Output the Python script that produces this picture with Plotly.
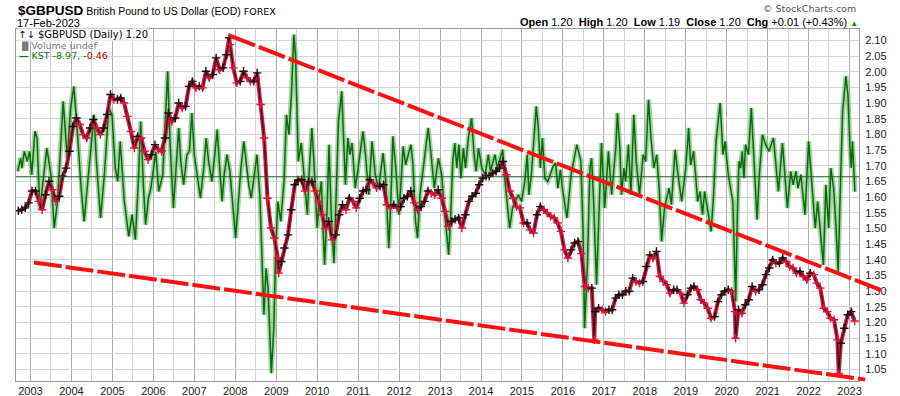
import plotly.graph_objects as go
import pandas as pd

# ---------------- data ----------------
# GBPUSD, one representative value per month (mid-month), Sep-2002 .. Feb-2023
price_first_month = "2002-09-15"
price_close = [
    1.557, 1.560, 1.566, 1.582,                                                   # 2002 Sep-Dec
    1.620, 1.620, 1.587, 1.560, 1.608, 1.651, 1.624, 1.587, 1.603, 1.667, 1.693, 1.747,  # 2003
    1.826, 1.853, 1.832, 1.800, 1.789, 1.821, 1.848, 1.821, 1.800, 1.821, 1.864, 1.928,  # 2004
    1.912, 1.912, 1.917, 1.901, 1.858, 1.810, 1.757, 1.794, 1.789, 1.747, 1.720, 1.736,  # 2005
    1.768, 1.752, 1.747, 1.789, 1.869, 1.842, 1.853, 1.901, 1.885, 1.890, 1.954, 1.970,  # 2006
    1.949, 1.954, 1.949, 2.002, 1.981, 1.992, 2.045, 2.007, 2.013, 2.055, 2.087, 2.013,  # 2007
    1.965, 1.970, 2.002, 1.981, 1.970, 1.970, 1.997, 1.896, 1.789, 1.597, 1.502, 1.470,  # 2008
    1.406, 1.395, 1.438, 1.480, 1.560, 1.640, 1.655, 1.656, 1.620, 1.650, 1.650, 1.620,  # 2009
    1.587, 1.544, 1.500, 1.523, 1.464, 1.480, 1.544, 1.576, 1.560, 1.597, 1.587, 1.566,  # 2010
    1.597, 1.620, 1.624, 1.656, 1.645, 1.630, 1.635, 1.640, 1.576, 1.566, 1.576, 1.566,  # 2011
    1.570, 1.597, 1.603, 1.620, 1.582, 1.560, 1.570, 1.587, 1.620, 1.613, 1.608, 1.624,  # 2012
    1.597, 1.555, 1.507, 1.523, 1.530, 1.534, 1.502, 1.544, 1.587, 1.603, 1.613, 1.640,  # 2013
    1.661, 1.667, 1.667, 1.677, 1.683, 1.693, 1.714, 1.672, 1.620, 1.597, 1.570, 1.566,  # 2014
    1.518, 1.518, 1.496, 1.486, 1.544, 1.570, 1.560, 1.550, 1.539, 1.534, 1.518, 1.491,  # 2015
    1.432, 1.406, 1.432, 1.454, 1.459, 1.420, 1.315, 1.310, 1.310, 1.235, 1.246, 1.241,  # 2016
    1.235, 1.241, 1.241, 1.278, 1.289, 1.289, 1.300, 1.300, 1.342, 1.331, 1.326, 1.331,  # 2017
    1.379, 1.416, 1.406, 1.427, 1.347, 1.331, 1.321, 1.294, 1.305, 1.305, 1.294, 1.262,  # 2018
    1.289, 1.310, 1.315, 1.305, 1.273, 1.262, 1.246, 1.214, 1.219, 1.267, 1.289, 1.300,  # 2019
    1.305, 1.300, 1.235, 1.241, 1.230, 1.257, 1.273, 1.315, 1.300, 1.305, 1.321, 1.353,  # 2020
    1.374, 1.400, 1.390, 1.390, 1.406, 1.395, 1.379, 1.374, 1.358, 1.363, 1.347, 1.337,  # 2021
    1.358, 1.353, 1.326, 1.310, 1.246, 1.235, 1.214, 1.209, 1.145, 1.134, 1.182, 1.225,  # 2022
    1.235, 1.205,                                                                 # 2023 Jan-Feb
]
# visible single-day extremes
price_spike_dates = ["2007-11-08", "2009-01-23", "2016-10-07", "2020-03-20", "2022-09-26"]
price_spike_values = [2.109, 1.358, 1.145, 1.150, 1.038]

# KST (turning points, time as fractional year)
kst_time = [
    2002.69, 2002.76, 2002.79, 2002.85, 2002.92, 2002.98, 2003.03, 2003.11, 2003.16, 2003.23,
    2003.40, 2003.50, 2003.58, 2003.66, 2003.80, 2003.86, 2003.90, 2003.98, 2004.06, 2004.15,
    2004.23, 2004.31, 2004.39, 2004.55, 2004.61, 2004.71, 2004.81, 2004.91, 2004.99, 2005.07,
    2005.13, 2005.19, 2005.29, 2005.40, 2005.48, 2005.56, 2005.64, 2005.69, 2005.76, 2005.81,
    2005.88, 2005.94, 2006.06, 2006.13, 2006.23, 2006.35, 2006.41, 2006.49, 2006.62, 2006.67,
    2006.74, 2006.82, 2006.88, 2006.94, 2007.00, 2007.07, 2007.15, 2007.23, 2007.29, 2007.35,
    2007.43, 2007.50, 2007.56, 2007.62, 2007.68, 2007.73, 2007.80, 2007.87, 2007.96, 2008.01,
    2008.09, 2008.14, 2008.21, 2008.27, 2008.33, 2008.39, 2008.45, 2008.53, 2008.60, 2008.66,
    2008.70, 2008.75, 2008.80, 2008.88, 2008.94, 2008.99, 2009.04, 2009.11, 2009.19, 2009.25,
    2009.31, 2009.37, 2009.43, 2009.47, 2009.51, 2009.54, 2009.61, 2009.69, 2009.76, 2009.81,
    2009.87, 2009.92, 2010.00, 2010.06, 2010.10, 2010.18, 2010.24, 2010.29, 2010.34, 2010.41,
    2010.47, 2010.52, 2010.60, 2010.65, 2010.69, 2010.75, 2010.80, 2010.85, 2010.93, 2011.00,
    2011.12, 2011.18, 2011.26, 2011.34, 2011.42, 2011.50, 2011.61, 2011.67, 2011.75, 2011.80,
    2011.85, 2011.92, 2012.00, 2012.04, 2012.10, 2012.16, 2012.22, 2012.29, 2012.34, 2012.40,
    2012.45, 2012.51, 2012.61, 2012.71, 2012.78, 2012.86, 2012.96, 2013.04, 2013.10, 2013.21,
    2013.26, 2013.31, 2013.36, 2013.41, 2013.46, 2013.51, 2013.57, 2013.62, 2013.69, 2013.77,
    2013.83, 2013.88, 2013.94, 2014.02, 2014.10, 2014.18, 2014.23, 2014.34, 2014.40, 2014.53,
    2014.58, 2014.64, 2014.70, 2014.77, 2014.91, 2014.99, 2015.07, 2015.13, 2015.17, 2015.23,
    2015.35, 2015.40, 2015.45, 2015.50, 2015.56, 2015.63, 2015.76, 2015.82, 2015.88, 2015.94,
    2016.00, 2016.10, 2016.20, 2016.34, 2016.44, 2016.49, 2016.53, 2016.60, 2016.66, 2016.70,
    2016.75, 2016.82, 2016.88, 2016.94, 2017.02, 2017.11, 2017.19, 2017.29, 2017.33, 2017.39,
    2017.43, 2017.49, 2017.53, 2017.60, 2017.66, 2017.73, 2017.79, 2017.87, 2017.96, 2018.02,
    2018.09, 2018.15, 2018.22, 2018.29, 2018.35, 2018.41, 2018.48, 2018.53, 2018.59, 2018.65,
    2018.74, 2018.80, 2018.90, 2019.00, 2019.07, 2019.12, 2019.19, 2019.24, 2019.29, 2019.35,
    2019.41, 2019.46, 2019.52, 2019.62, 2019.68, 2019.74, 2019.84, 2019.87, 2019.91, 2019.96,
    2020.04, 2020.15, 2020.22, 2020.26, 2020.30, 2020.34, 2020.38, 2020.42, 2020.46, 2020.53,
    2020.60, 2020.65, 2020.69, 2020.74, 2020.79, 2020.87, 2020.95, 2021.03, 2021.14, 2021.20,
    2021.26, 2021.36, 2021.42, 2021.48, 2021.56, 2021.62, 2021.69, 2021.74, 2021.81, 2021.91,
    2022.00, 2022.05, 2022.16, 2022.22, 2022.36, 2022.42, 2022.49, 2022.54, 2022.61, 2022.67,
    2022.72, 2022.77, 2022.83, 2022.91, 2022.96, 2023.01, 2023.04, 2023.07, 2023.10, 2023.13,
]
kst_value = [
    3.2, 11.2, 5.2, 15.2, 9.2, 15.2, 1.2, 27.2, 23.2, -19.7,
    17.2, 1.2, -30.7, -14.8, 45.1, 23.2, 11.2, 41.1, 54.1, 25.2,
    -4.8, -26.7, -4.8, 37.1, 9.2, -24.7, 3.2, 41.1, 37.1, 5.2,
    -2.8, 21.2, -14.8, -35.7, -22.7, -37.7, 1.2, 33.1, -6.8, -28.7,
    -12.8, -6.8, 15.0, -8.8, 1.2, 63.1, 19.2, -18.7, 29.2, 9.2,
    -4.8, 13.2, 15.2, 38.1, 13.2, 1.2, -12.8, 5.2, 23.2, 9.2,
    -2.8, 13.2, 28.2, 5.2, -14.8, 1.2, 13.2, 3.2, -22.7, -36.7,
    -10.8, 5.2, 21.2, 9.2, -4.8, -12.8, -0.8, 13.2, -10.8, -50.7,
    -82.6, -54.7, -66.6, -117.5, -90.6, -40.7, -14.8, -26.7, -2.8, 37.1,
    25.2, 49.1, 85.0, 73.1, 39.1, 9.2, 20.2, -0.8, -22.7, 5.2,
    29.2, 9.2, -30.7, -10.8, -2.8, -52.7, -20.7, 19.2, -20.7, -51.7,
    -10.8, 33.1, 51.1, 19.2, -4.8, 23.2, 13.2, 20.2, -6.8, 5.2,
    27.2, 13.2, -10.8, 21.2, 1.2, -6.8, 14.2, -0.8, -42.7, -14.8,
    24.2, 5.2, -22.7, -6.8, 18.2, 7.2, 12.2, 19.2, 7.2, -26.7,
    -36.7, -10.8, 9.2, 29.2, 13.2, -6.8, 11.0, 1.2, -18.7, -46.7,
    -22.7, 9.2, 20.2, 5.2, 19.2, -0.8, 17.2, 5.2, 23.2, 35.1,
    13.2, 3.2, 17.2, 5.2, 1.2, 13.2, 3.2, 13.2, 5.2, 16.2,
    -0.8, -16.7, -30.7, -18.7, -10.8, -14.8, -2.8, 13.2, -10.8, 1.2,
    42.1, 29.2, 5.2, 23.2, -0.8, -2.8, 6.2, 8.2, -6.8, 4.2,
    -8.8, -24.7, 1.2, 19.2, 9.2, -30.7, -90.6, -50.7, 5.2, 11.2,
    -14.8, -64.6, -22.7, 20.2, -18.7, 15.2, -10.8, 17.2, 38.1, 17.2,
    -10.8, 5.2, -2.8, 19.2, -10.8, 37.1, 9.2, -10.8, 13.2, 9.2,
    46.1, 23.2, 5.2, 13.2, -6.8, -38.7, -18.7, -12.8, -6.8, -16.7,
    16.2, 3.2, -14.8, 5.2, 29.2, 7.2, 15.2, 1.2, -14.8, -8.8,
    -22.7, -8.8, -18.7, -32.7, -10.8, 21.2, 44.1, 29.2, 13.2, 21.2,
    1.2, -14.8, -74.6, -22.7, 9.2, 5.2, 15.2, -0.8, 19.2, 13.2,
    41.1, 17.2, -4.8, -25.7, -0.8, 25.2, 19.2, 15.2, 23.2, 9.2,
    -8.8, 20.2, 1.2, -18.7, 3.2, -4.8, 3.2, -6.8, 1.2, -22.7,
    21.2, 3.2, -30.7, -14.8, -52.7, -4.8, -30.7, 5.2, -6.8, -30.7,
    -56.7, -10.8, 39.1, 60.1, 49.1, 17.2, 5.2, 21.2, 9.2, -8.97,
]
kst_last, kst_signal_last = -8.97, -0.46

# hand-drawn trendlines (end points)
trend_upper_dates = ["2007-11-06", "2023-10-28"]
trend_upper_values = [2.117, 1.301]
trend_lower_dates = ["2003-02-01", "2023-05-21"]
trend_lower_values = [1.392, 1.018]

x_range = ["2002-08-25", "2023-03-26"]
y_range = [1.0136, 2.137]
kst_range = [-122.2, 88.4]

# ---------------- build ----------------
price_dates = pd.date_range(price_first_month, periods=len(price_close),
                            freq=pd.DateOffset(months=1))
df = pd.concat([
    pd.DataFrame({"date": price_dates, "close": price_close}),
    pd.DataFrame({"date": pd.to_datetime(price_spike_dates), "close": price_spike_values}),
]).sort_values("date").reset_index(drop=True)

cols = []
for i, v in enumerate(df["close"]):
    cols.append("#111111" if i == 0 or v >= df["close"].iloc[i - 1] else "#dc143c")


def frac_to_date(f):
    y = int(f)
    a = pd.Timestamp(year=y, month=1, day=1)
    b = pd.Timestamp(year=y + 1, month=1, day=1)
    return a + (b - a) * (f - y)


kst_dates = [frac_to_date(t) for t in kst_time]

fig = go.Figure()
fig.add_trace(go.Scatter(x=kst_dates, y=kst_value, yaxis="y", mode="lines",
                         line=dict(color="rgba(105,185,105,0.6)", width=5),
                         hoverinfo="skip", showlegend=False))
fig.add_trace(go.Scatter(x=kst_dates, y=kst_value, yaxis="y", mode="lines",
                         line=dict(color="#0a6a0a", width=1.5),
                         showlegend=False))
fig.add_trace(go.Scatter(x=df["date"], y=df["close"], yaxis="y2", mode="lines",
                         line=dict(color="#dc143c", width=4),
                         hoverinfo="skip", showlegend=False))
fig.add_trace(go.Scatter(x=df["date"], y=df["close"], yaxis="y2", mode="lines+markers",
                         line=dict(color="#1a1a1a", width=1.2),
                         marker=dict(symbol="cross-thin", size=6,
                                     line=dict(width=1.4, color=cols)),
                         showlegend=False))

W, H = 900, 396
L, R, T, B = 16, 41, 29, 15
pw, ph = W - L - R, H - T - B


def px(x):
    return (x - L) / pw


def py(y):
    return (H - B - y) / ph


t0, t1 = pd.Timestamp(x_range[0]), pd.Timestamp(x_range[1])


def xpaper(d):
    return (pd.Timestamp(d) - t0) / (t1 - t0)


def ypaper(v):
    return (v - y_range[0]) / (y_range[1] - y_range[0])


shapes = [
    dict(type="line", xref="paper", yref="y", x0=0, x1=1, y0=0, y1=0,
         line=dict(color="#1e5e1e", width=1), layer="above"),
]
for ds, vs in ((trend_upper_dates, trend_upper_values), (trend_lower_dates, trend_lower_values)):
    shapes.append(dict(type="line", xref="paper", yref="paper",
                       x0=xpaper(ds[0]), y0=ypaper(vs[0]), x1=xpaper(ds[1]), y1=ypaper(vs[1]),
                       line=dict(color="#ff1010", width=4, dash="28px,4px"), layer="above"))

ARIAL = "Liberation Sans, Arial, sans-serif"
VERD = "DejaVu Sans, Verdana, sans-serif"
ann = [
    dict(x=px(16), y=py(10),
         text="<span style='font-size:13.5px'><b>$GBPUSD</b></span> British Pound to US Dollar (EOD) "
              "<span style='font-family:DejaVu Sans;font-size:9.5px'>FOREX</span>",
         font=dict(family=ARIAL, size=10.5, color="#000")),
    dict(x=px(15), y=py(23), text="17-Feb-2023", font=dict(family=ARIAL, size=11, color="#000")),
    dict(x=px(858), y=py(9), xanchor="right", align="right", text="\u00a9 StockCharts.com",
         font=dict(family=VERD, size=9.5, color="#555")),
    dict(x=px(860), y=py(22), xanchor="right", align="right",
         text="<b>Open</b> 1.20  <b>High</b> 1.20  <b>Low</b> 1.19  <b>Close</b> 1.20  "
              "<b>Chg</b> +0.01 (+0.43%) <span style='color:#1a8a1a;font-size:8px'>\u25b2</span>",
         font=dict(family=ARIAL, size=11, color="#000")),
    dict(x=px(17), y=py(34.5), text="\u2191\u2193 $GBPUSD (Daily) 1.20", bgcolor="#ffffff",
         font=dict(family=VERD, size=10, color="#000"), borderpad=0),
    dict(x=px(17), y=py(45.5), text="<span style='font-size:8px'>\u2590\u258c</span>Volume undef",
         font=dict(family=VERD, size=9.5, color="#777")),
    dict(x=px(17), y=py(56), text="<b>\u2014</b> KST %.2f, <span style='color:#b00000'>%.2f</span>"
         % (kst_last, kst_signal_last),
         font=dict(family=VERD, size=9.5, color="#0b7a0b")),
]
for a in ann:
    a.setdefault("xanchor", "left")
    a.setdefault("align", "left")
    a.update(xref="paper", yref="paper", yanchor="middle", showarrow=False)

fig.update_layout(
    width=W, height=H, margin=dict(l=L, r=R, t=T, b=B, autoexpand=False),
    paper_bgcolor="#ffffff", plot_bgcolor="#ffffff",
    showlegend=False, hovermode=False,
    xaxis=dict(type="date", range=x_range, dtick="M12", tick0="2003-01-01",
               tickformat="%Y", showgrid=True, gridcolor="#acacac", gridwidth=1,
               minor=dict(dtick="M6", tick0="2003-01-01", showgrid=True,
                          gridcolor="#d4d4d4", gridwidth=1),
               showline=True, linecolor="#9a9a9a", mirror=True, ticks="",
               tickfont=dict(family=ARIAL, size=11, color="#222"), zeroline=False),
    yaxis=dict(range=kst_range, visible=False, showgrid=False, zeroline=False),
    yaxis2=dict(overlaying="y", side="right", range=y_range, dtick=0.05, tick0=1.0,
                tickformat=".2f", showgrid=True, gridcolor="#d4d4d4", gridwidth=1,
                showline=True, linecolor="#9a9a9a", mirror=True, ticks="",
                ticklabelstandoff=3,
                tickfont=dict(family=ARIAL, size=11, color="#222"), zeroline=False),
    shapes=shapes, annotations=ann,
)

fig.write_html("out.html", config={"displayModeBar": False},
               post_script="document.body.style.margin='0px';document.body.style.overflow='hidden';")
